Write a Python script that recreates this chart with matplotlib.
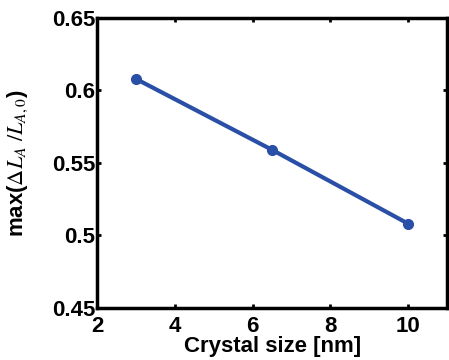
import matplotlib
matplotlib.use("Agg")
import matplotlib.pyplot as plt

# Datos
crystal_size = [3, 6.5, 10]
max_dl = [0.608, 0.559, 0.508]
x_ticks = [2, 4, 6, 8, 10]
y_ticks = [0.45, 0.5, 0.55, 0.6, 0.65]
y_tick_labels = ["0.45", "0.5", "0.55", "0.6", "0.65"]

plt.rcParams["font.family"] = "Liberation Sans"
plt.rcParams["mathtext.fontset"] = "custom"
plt.rcParams["mathtext.rm"] = "STIXGeneral"
plt.rcParams["mathtext.it"] = "STIXGeneral:italic"
plt.rcParams["mathtext.bf"] = "STIXGeneral:bold"

fig = plt.figure(figsize=(4.49, 3.6), dpi=100)
ax = fig.add_axes([0.216, 0.145, 0.78, 0.805])

ax.plot(crystal_size, max_dl, color="#2a4fa6", lw=3, marker="o", ms=7)

ax.set_xlim(2, 11)
ax.set_ylim(0.45, 0.65)
ax.set_xticks(x_ticks)
ax.set_yticks(y_ticks)
ax.set_yticklabels(y_tick_labels)
ax.tick_params(direction="in", length=3, width=2, labelsize=16, pad=1,
               top=True, right=True)
ax.tick_params(axis="x", pad=6)
for lbl in ax.get_xticklabels() + ax.get_yticklabels():
    lbl.set_fontweight("bold")
for s in ax.spines.values():
    s.set_linewidth(2.5)

ax.set_xlabel("Crystal size [nm]", fontsize=16, fontweight="bold", labelpad=-1)
ax.set_ylabel(r"max($\Delta L_A\ /L_{A,0}$)", fontsize=16, fontweight="bold", labelpad=16)

fig.savefig("out.png", dpi=100)
